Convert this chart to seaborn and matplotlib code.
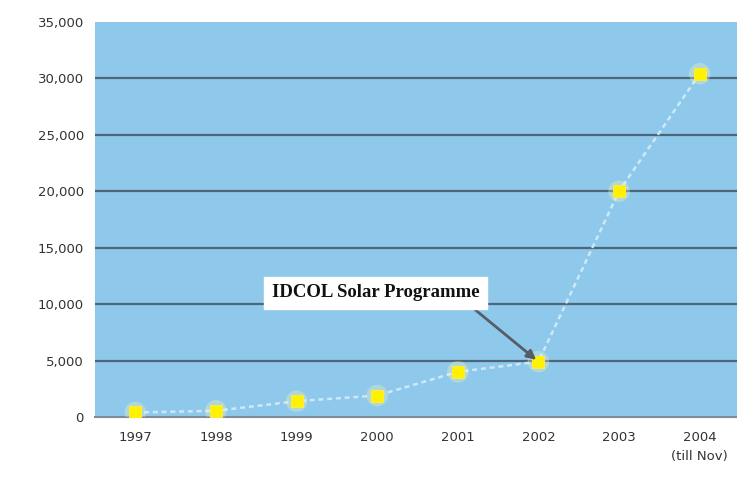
import matplotlib.pyplot as plt
import pandas as pd
import seaborn as sns

years = ["1997", "1998", "1999", "2000", "2001", "2002", "2003", "2004"]
tick_labels = ["1997", "1998", "1999", "2000", "2001", "2002", "2003", "2004\n(till Nov)"]
installations = [400, 550, 1400, 1900, 4000, 4900, 20000, 30400]
y_ticks = [0, 5000, 10000, 15000, 20000, 25000, 30000, 35000]

df = pd.DataFrame({"Year": years, "Systems": installations})
df["pos"] = range(len(df))

sns.set_theme(style="white")

fig = plt.figure(figsize=(7.37, 4.86), dpi=100)
ax = fig.add_axes([95 / 737, 0.142, 645 / 737, 0.813])
ax.set_facecolor("#8ec9ec")

# faint connecting line
sns.lineplot(data=df, x="pos", y="Systems", ax=ax, color="#cfe8f7",
             linestyle=(0, (2, 1.5)), linewidth=1.8, zorder=3)
# glow + markers
sns.scatterplot(data=df, x="pos", y="Systems", ax=ax, marker="o", s=240,
                color="#fffbb0", alpha=0.3, edgecolor="none", zorder=4)
sns.scatterplot(data=df, x="pos", y="Systems", ax=ax, marker="s", s=70,
                color="#fff200", edgecolor="#ffe94d", zorder=5)

ax.set_xlim(-0.5, 7.5)
ax.set_ylim(0, 35000)
ax.set_yticks(y_ticks)
ax.set_yticklabels([f"{v:,}" for v in y_ticks])
ax.set_xticks(range(len(years)))
ax.set_xticklabels(tick_labels)
ax.set_xlabel("")
ax.set_ylabel("")

for v in y_ticks[1:-1]:
    ax.axhline(v, color="#4e6678", linewidth=1.6, zorder=2)

for s in ["top", "right", "left"]:
    ax.spines[s].set_visible(False)
ax.spines["bottom"].set_color("#7f8c96")
ax.spines["bottom"].set_linewidth(1.5)

# boundary tick marks between categories
ax.set_xticks([i + 0.5 for i in range(len(years) - 1)], minor=True)
ax.tick_params(axis="x", which="minor", length=5, color="#7f8c96", width=1.2,
               direction="inout")
ax.tick_params(axis="x", which="major", length=0, pad=10, labelsize=9.5,
               labelcolor="#333333")
ax.tick_params(axis="y", length=0, pad=8, labelsize=9.5, labelcolor="#333333")
for lab in ax.get_xticklabels():
    lab.set_linespacing(1.6)
    lab.set_verticalalignment("top")

ax.annotate("IDCOL Solar Programme", xy=(5, 4900), xytext=(2.98, 11000),
            fontsize=13.5, fontweight="bold", family="Liberation Serif",
            ha="center", va="center", color="#111111",
            bbox=dict(boxstyle="square,pad=0.4", fc="white", ec="white"),
            arrowprops=dict(arrowstyle="-|>", color="#555e66", lw=2,
                            shrinkA=0, shrinkB=2, relpos=(0.93, 0)),
            zorder=6)

fig.savefig("out.png", dpi=100)
